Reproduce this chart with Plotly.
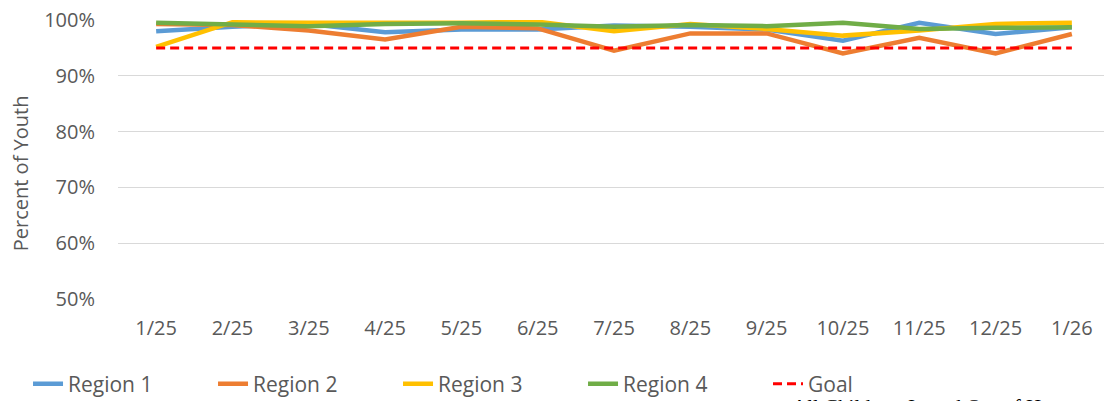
import plotly.graph_objects as go

months = ["1/25", "2/25", "3/25", "4/25", "5/25", "6/25", "7/25", "8/25", "9/25", "10/25", "11/25", "12/25", "1/26"]
region1 = [98.0, 98.8, 99.3, 97.8, 98.3, 98.3, 99.0, 98.8, 98.3, 96.3, 99.5, 97.5, 98.7]
region2 = [99.3, 99.1, 98.1, 96.5, 98.8, 98.5, 94.5, 97.6, 97.6, 94.0, 96.8, 94.0, 97.5]
region3 = [95.2, 99.6, 99.5, 99.4, 99.5, 99.7, 98.0, 99.3, 98.4, 97.2, 98.1, 99.3, 99.5]
region4 = [99.5, 99.2, 98.9, 99.3, 99.4, 99.2, 98.8, 99.1, 98.9, 99.5, 98.4, 98.6, 98.7]
goal = [95] * 13
y_ticks = [50, 60, 70, 80, 90, 100]

series = [
    ("Region 1", region1, "#5B9BD5"),
    ("Region 2", region2, "#ED7D31"),
    ("Region 3", region3, "#FFC000"),
    ("Region 4", region4, "#70AD47"),
]

FONT = "Open Sans"
fig = go.Figure()
for name, vals, color in series:
    fig.add_trace(go.Scatter(x=months, y=vals, name=name, mode="lines",
                             line=dict(color=color, width=4.5)))
fig.add_trace(go.Scatter(x=months, y=goal, name="Goal", mode="lines",
                         line=dict(color="#FF0000", width=3, dash="9px,5px")))

# page body has an 8px margin, so the figure is offset by 8px; margins compensate
fig.update_layout(
    width=1104, height=393,
    margin=dict(l=110, r=2, t=12, b=102, autoexpand=False),
    plot_bgcolor="white", paper_bgcolor="white",
    font=dict(family=FONT, size=20, color="#595959"),
    showlegend=True,
    legend=dict(orientation="h", x=-0.0907, xanchor="left", y=-0.305, yanchor="middle",
                entrywidth=140, entrywidthmode="pixels", itemwidth=30,
                font=dict(family=FONT, size=21, color="#595959"),
                bgcolor="rgba(0,0,0,0)"),
    xaxis=dict(type="category", range=[-0.5, 12.5], showgrid=False, showline=False,
               zeroline=False, ticks="", ticklabelstandoff=15,
               tickfont=dict(family=FONT, size=20, color="#595959")),
    yaxis=dict(range=[50, 100], tickvals=y_ticks,
               ticktext=[f"{v}%" for v in y_ticks], showgrid=True,
               gridcolor="#D9D9D9", gridwidth=1, zeroline=False, showline=False,
               ticks="", ticklabelstandoff=22, ticklabeloverflow="allow",
               tickfont=dict(family=FONT, size=20, color="#595959")),
    annotations=[
        dict(text="Percent of Youth", xref="paper", yref="paper", x=-0.098, y=0.45,
             xanchor="center", yanchor="middle", textangle=-90, showarrow=False,
             font=dict(family=FONT, size=20, color="#595959")),
        dict(text="All Children, In and Out of Home", xref="paper", yref="paper",
             x=0.6774, y=-0.337, xanchor="left", yanchor="top", showarrow=False,
             font=dict(family="Liberation Serif", size=21, color="#000000")),
    ],
)

fig.write_html("out.html")
